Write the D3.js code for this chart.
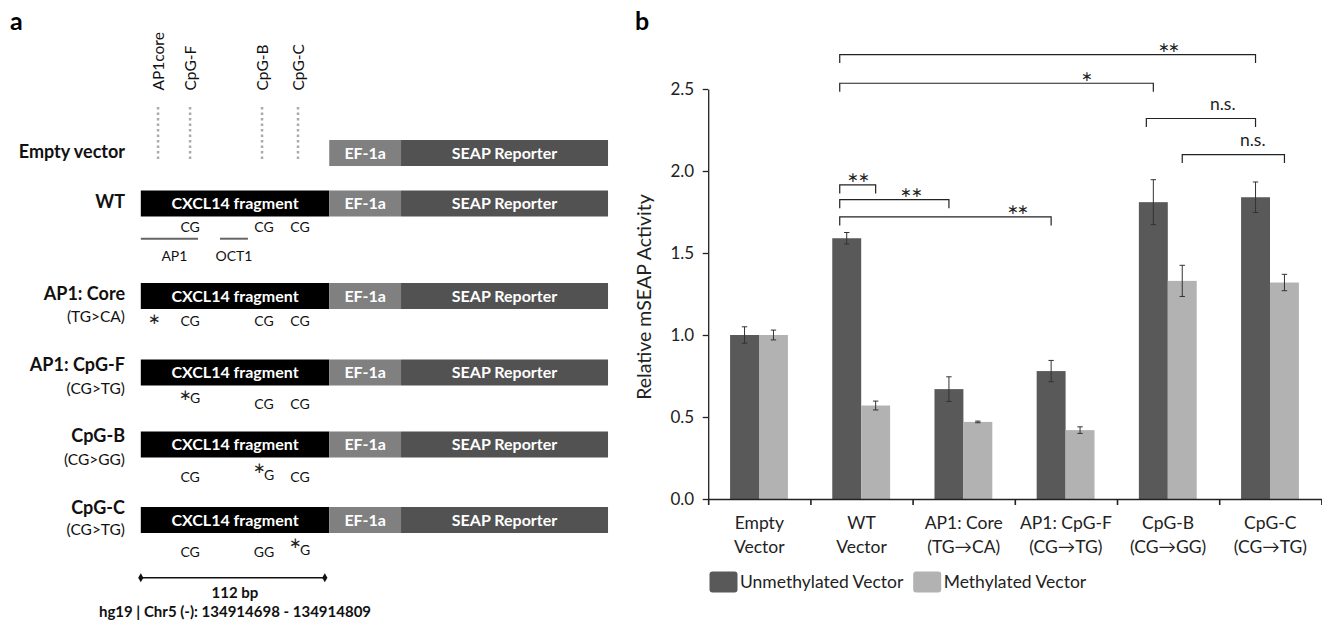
<!DOCTYPE html>
<html>
<head>
<meta charset="utf-8">
<script src="https://cdn.jsdelivr.net/npm/d3@7"></script>
<style>
body{margin:0;background:#fff}
text{font-family:Lato,"Open Sans",sans-serif}
</style>
</head>
<body>
<script>
// ---- panel a : constructs ----
var sites = ["AP1core","CpG-F","CpG-B","CpG-C"];
var sitePos = [10.5,30,73.8,95.7]; // bp inside the 112 bp fragment
var constructs = ["Empty vector","WT","AP1: Core","AP1: CpG-F","CpG-B","CpG-C"];
var constructSub = ["","","(TG>CA)","(CG>TG)","(CG>GG)","(CG>TG)"];
var siteCalls = [
  null,
  ["","CG","CG","CG"],
  ["*","CG","CG","CG"],
  ["","*G","CG","CG"],
  ["","CG","*G","CG"],
  ["","CG","GG","*G"]
];
var motifs = ["AP1","OCT1"];
var motifStart = [0,48.2];
var motifEnd = [34.8,65.2];
var parts = ["CXCL14 fragment","EF-1a","SEAP Reporter"];
var partStart = [0,114.7,158.4];
var partEnd = [114.7,158.4,284.4];
var fragLen = 112;
var coordText = "hg19 | Chr5 (-): 134914698 - 134914809";

// ---- panel b : bar chart ----
var groupLine1 = ["Empty","WT","AP1: Core","AP1: CpG-F","CpG-B","CpG-C"];
var groupLine2 = ["Vector","Vector","(TG\u2192CA)","(CG\u2192TG)","(CG\u2192GG)","(CG\u2192TG)"];
var seriesNames = ["Unmethylated Vector","Methylated Vector"];
var unmethylated = [1.00,1.59,0.67,0.78,1.81,1.84];
var unmethylatedErr = [0.05,0.035,0.075,0.065,0.137,0.093];
var methylated = [1.00,0.57,0.47,0.42,1.33,1.32];
var methylatedErr = [0.03,0.027,0.005,0.02,0.095,0.05];
var yTicks = [0,0.5,1.0,1.5,2.0,2.5];
// brackets: from group/series, to group/series, level, label
var brFromG = [1,1,4,4,1,1,1];
var brFromS = [0,0,0,1,0,0,0];
var brToG   = [5,4,5,5,1,2,3];
var brToS   = [0,0,0,1,1,0,0];
var brLevel = [2.71,2.535,2.32,2.10,1.915,1.825,1.72];
var brLabel = ["**","*","n.s.","n.s.","**","**","**"];

var svg = d3.select("body").append("svg").attr("width",1322).attr("height",621);
var STAR = "\u2217";

// ===== panel a =====
var A = svg.append("g");
A.append("text").attr("x",10).attr("y",30).attr("font-size",25).attr("font-weight","bold").text("a");

var xa = d3.scaleLinear().domain([0,fragLen]).range([140.8,324.8]);
var rowMid = [153,203.5,296,372.5,444.5,520];
var nameY = [152,201.7,294,365,436,507.3];
var subY = [0,0,316.7,388.3,459.3,530];
var markY = [0,227,321,404.5,477,552.3];
var barH = 26;
var partFill = ["#000","#808080","#525252"];

// site labels + dotted guides
sites.forEach(function(s,i){
  A.append("text").attr("transform","translate("+(xa(sitePos[i])+5.5)+",90.5) rotate(-90)")
    .attr("font-size",15.5).attr("fill","#111").text(s);
  A.append("line").attr("x1",xa(sitePos[i])).attr("x2",xa(sitePos[i]))
    .attr("y1",107).attr("y2",160).attr("stroke","#aaa").attr("stroke-width",2.5)
    .attr("stroke-dasharray","2.5,3");
});

function stars(g, label, cx, cy, size){
  g.append("text").attr("x",cx).attr("y",cy+0.3*size).attr("text-anchor","middle")
    .attr("font-family","'DejaVu Sans'").attr("font-size",size).attr("letter-spacing",label.length>1?-1.5:0)
    .attr("fill","#222").text(label.replace(/\*/g,STAR));
}

constructs.forEach(function(c,r){
  var y0 = rowMid[r]-barH/2;
  parts.forEach(function(p,k){
    if (r===0 && k===0) return;
    A.append("rect").attr("x",xa(partStart[k])).attr("y",y0)
      .attr("width",xa(partEnd[k])-xa(partStart[k])).attr("height",barH).attr("fill",partFill[k]);
    A.append("text").attr("x",(xa(partStart[k])+xa(partEnd[k]))/2).attr("y",rowMid[r])
      .attr("dy","0.35em").attr("text-anchor","middle").attr("fill","#fff")
      .attr("font-size",16).attr("font-weight","bold").text(p);
  });
  A.append("text").attr("x",125).attr("y",nameY[r]).attr("dy","0.35em").attr("text-anchor","end")
    .attr("font-size",18).attr("font-weight","bold").attr("fill","#111").text(c);
  if (constructSub[r]) A.append("text").attr("x",125).attr("y",subY[r]).attr("dy","0.35em")
    .attr("text-anchor","end").attr("font-size",15.5).attr("fill","#111").text(constructSub[r]);
  if (siteCalls[r]) siteCalls[r].forEach(function(m,i){
    if (!m) return;
    var sx = xa(sitePos[i]) + (i>1?2:0), my = markY[r];
    if (m === "*") { stars(A, "*", sx-3.5, my-2, 15); return; }
    if (m.charAt(0)==="*") {
      stars(A, "*", sx-5, my-9, 15);
      A.append("text").attr("x",sx+5).attr("y",my-(r===3?6:2)).attr("dy","0.35em")
        .attr("text-anchor","middle").attr("font-size",14).attr("fill","#111").text(m.slice(1));
      return;
    }
    A.append("text").attr("x",sx).attr("y",my).attr("dy","0.35em")
      .attr("text-anchor","middle").attr("font-size",14).attr("fill","#111").text(m);
  });
});

// motifs under WT
motifs.forEach(function(m,i){
  A.append("line").attr("x1",xa(motifStart[i])).attr("x2",xa(motifEnd[i]))
    .attr("y1",238.7).attr("y2",238.7).attr("stroke","#666").attr("stroke-width",2);
  A.append("text").attr("x",(xa(motifStart[i])+xa(motifEnd[i]))/2 + (i===0?5:0)).attr("y",256.5)
    .attr("dy","0.35em").attr("text-anchor","middle").attr("font-size",14).attr("fill","#111").text(m);
});

// scale bar
A.append("line").attr("x1",xa(0)).attr("x2",xa(fragLen)).attr("y1",577.7).attr("y2",577.7)
  .attr("stroke","#111").attr("stroke-width",1.5);
[0,fragLen].forEach(function(v){
  A.append("path").attr("d",d3.symbol(d3.symbolDiamond,24)())
    .attr("transform","translate("+xa(v)+",577.7)").attr("fill","#111");
});
A.append("text").attr("x",235).attr("y",592.7).attr("dy","0.35em").attr("text-anchor","middle")
  .attr("font-size",15).attr("font-weight","bold").attr("fill","#111").text(fragLen+" bp");
A.append("text").attr("x",235).attr("y",611.7).attr("dy","0.35em").attr("text-anchor","middle")
  .attr("font-size",15).attr("font-weight","bold").attr("fill","#111").text(coordText);

// ===== panel b =====
var B = svg.append("g");
B.append("text").attr("x",635).attr("y",30).attr("font-size",25).attr("font-weight","bold").text("b");

var left = 708.2, right = 1321.4, y0b = 499, ytop = 89;
var x0 = d3.scaleBand().domain(d3.range(groupLine1.length)).range([left,right]);
var bw = x0.bandwidth();
var x1 = d3.scaleBand().domain([0,1]).range([0.214*bw,0.78*bw]);
var y = d3.scaleLinear().domain([0,2.5]).range([y0b,ytop]);
var colors = ["#595959","#b2b2b2"];
var vals = [unmethylated,methylated];
var errs = [unmethylatedErr,methylatedErr];

vals.forEach(function(arr,s){
  B.selectAll("rect.s"+s).data(arr).enter().append("rect").attr("class","s"+s)
    .attr("x",function(d,i){return x0(i)+x1(s);})
    .attr("y",function(d){return y(d);})
    .attr("width",x1.bandwidth())
    .attr("height",function(d){return y0b-y(d);})
    .attr("fill",colors[s]);
});
vals.forEach(function(arr,s){
  arr.forEach(function(d,i){
    var cx = x0(i)+x1(s)+x1.bandwidth()/2, e = errs[s][i];
    B.append("path").attr("d","M"+cx+","+y(d+e)+"V"+y(d-e)+"M"+(cx-2.7)+","+y(d+e)+"h5.4M"+(cx-2.7)+","+y(d-e)+"h5.4")
      .attr("stroke","#333").attr("stroke-width",1).attr("fill","none");
  });
});

var yAxis = d3.axisLeft(y).tickValues(yTicks).tickFormat(d3.format(".1f")).tickSizeInner(5.5).tickSizeOuter(0);
var gy = B.append("g").attr("transform","translate("+left+",0)").call(yAxis);
gy.select(".domain").attr("stroke","#222").attr("stroke-width",1.3);
gy.selectAll(".tick line").attr("stroke","#222").attr("stroke-width",1.3);
gy.selectAll(".tick text").attr("font-family","Lato").attr("font-size",17).attr("fill","#222").attr("x",-14);

var xb = d3.scaleLinear().domain([0,groupLine1.length]).range([left,right]);
var gx = B.append("g").attr("transform","translate(0,"+y0b+")")
  .call(d3.axisBottom(xb).tickValues(d3.range(groupLine1.length+1)).tickFormat("").tickSizeInner(6).tickSizeOuter(0));
gx.select(".domain").attr("stroke","#222").attr("stroke-width",1.6);
gx.selectAll(".tick line").attr("stroke","#222").attr("stroke-width",1.6);

groupLine1.forEach(function(g,i){
  var cx = x0(i)+bw/2;
  B.append("text").attr("x",cx).attr("y",529).attr("text-anchor","middle").attr("font-size",17.5).attr("fill","#222").text(g);
  B.append("text").attr("x",cx).attr("y",552.5).attr("text-anchor","middle").attr("font-size",17.5).attr("fill","#222").text(groupLine2[i]);
});

B.append("text").attr("transform","translate(651,297) rotate(-90)").attr("text-anchor","middle")
  .attr("font-family","'Open Sans'").attr("font-size",19.5).attr("fill","#222").text("Relative mSEAP Activity");

// significance brackets
brLevel.forEach(function(lv,k){
  var xa1 = x0(brFromG[k])+x1(brFromS[k])+x1.bandwidth()/2 - (brFromS[k]===0?7:0);
  var xa2 = x0(brToG[k])+x1(brToS[k])+x1.bandwidth()/2;
  var ly = y(lv);
  B.append("path").attr("d","M"+xa1+","+(ly+8.5)+"V"+ly+"H"+xa2+"V"+(ly+8.5))
    .attr("stroke","#222").attr("stroke-width",1.2).attr("fill","none");
  var frac = [0.79,0.79,0.70,0.69,0.5,0.65,0.84][k];
  var lx = xa1+(xa2-xa1)*frac;
  if (brLabel[k]==="n.s.") {
    B.append("text").attr("x",lx).attr("y",ly-9).attr("text-anchor","middle")
      .attr("font-size",17.5).attr("fill","#222").text(brLabel[k]);
  } else {
    stars(B, brLabel[k], lx, ly-6.7, 13.5);
  }
});

// legend
seriesNames.forEach(function(n,s){
  var lx = [709.5,913.2][s];
  B.append("rect").attr("x",lx).attr("y",571.5).attr("width",28).attr("height",21).attr("rx",3).attr("fill",colors[s]);
  B.append("text").attr("x",lx+30.5).attr("y",582).attr("dy","0.35em").attr("font-size",17.5).attr("fill","#222").text(n);
});
</script>
</body>
</html>
